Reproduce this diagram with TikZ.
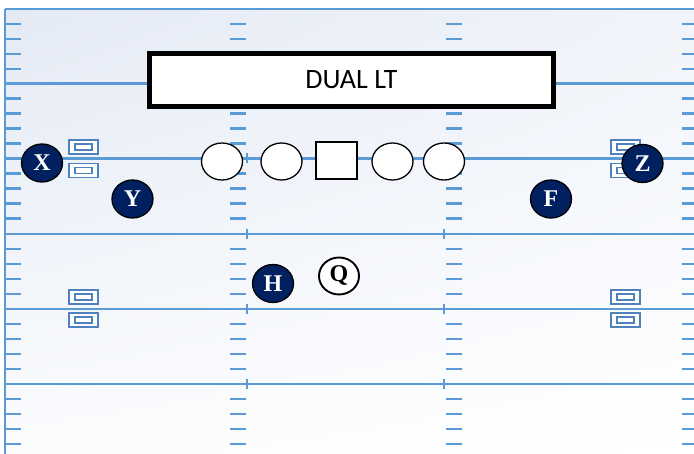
\documentclass[tikz,border=0pt]{standalone}
\usepackage{fontspec}
\setmainfont{Liberation Serif}
\newfontfamily\titlefont{Carlito}
\usetikzlibrary{shapes.geometric,shadings}
\definecolor{fieldline}{RGB}{91,155,213}
\definecolor{numline}{RGB}{79,129,189}
\definecolor{navy}{RGB}{0,32,96}
\definecolor{fieldtop}{RGB}{228,234,245}
\definecolor{fieldmid}{RGB}{240,244,250}
\tikzset{
  yardline/.style={draw=fieldline, line width=2.2pt},
  hashmark/.style={draw=fieldline, line width=2.6pt},
  numbox/.style={draw=numline, line width=1.8pt, fill=white, minimum width=29pt, minimum height=14pt, inner sep=0pt},
  numinner/.style={draw=numline, line width=1.5pt, fill=white, minimum width=17pt, minimum height=6pt, inner sep=0pt},
  lineman/.style={ellipse, draw=black, line width=1.3pt, fill=white, minimum width=41pt, minimum height=37pt, inner sep=0pt},
  center/.style={rectangle, draw=black, line width=1.3pt, fill=white, minimum width=41pt, minimum height=37pt, inner sep=0pt},
  skill/.style={ellipse, draw=black, line width=1.3pt, fill=navy, text=white, minimum width=41pt, minimum height=38pt, inner sep=0pt, font=\fontsize{24}{24}\selectfont\bfseries},
  qb/.style={ellipse, draw=black, line width=1.9pt, fill=white, text=black, minimum width=40pt, minimum height=37pt, inner sep=0pt, font=\fontsize{24}{24}\selectfont\bfseries},
  titlebox/.style={rectangle, draw=black, line width=5pt, fill=white, minimum width=404pt, minimum height=53pt, inner sep=0pt, font=\titlefont\fontsize{28}{28}\selectfont}
}
\begin{document}
\begin{tikzpicture}[x=1pt, y=-1pt]
  \useasboundingbox (0,0) rectangle (694,454);
  \fill[white] (0,0) rectangle (694,454);
  % turf with a soft diagonal tint
  \shade[upper left=fieldtop, upper right=fieldmid, lower left=white!70!fieldmid, lower right=white]
    (5,9) rectangle (694,454);
  % sideline and back line
  \draw[yardline] (5,9) -- (694,9);
  \draw[yardline] (5,9) -- (5,454);
  % yard lines every five yards
  \foreach \y in {83.5,158.5,234,309,384} {
    \draw[yardline] (5,\y) -- (694,\y);
    \draw[yardline] (247,\y-5) -- (247,\y+5);
    \draw[yardline] (444,\y-5) -- (444,\y+5);
  }
  % one-yard hash marks
  \foreach \yb in {9,83.5,158.5,234,309,384} {
    \foreach \j in {1,2,3,4} {
      \pgfmathsetmacro{\yy}{\yb+15*\j}
      \ifdim \yy pt<452pt
        \draw[hashmark] (5,\yy) -- (21,\yy);
        \draw[hashmark] (230,\yy) -- (246,\yy);
        \draw[hashmark] (446,\yy) -- (462,\yy);
        \draw[hashmark] (682,\yy) -- (694,\yy);
      \fi
    }
  }
  % yard number markers
  \foreach \nm/\x/\y in {lu1/83.5/147, ll1/83.5/170.5, ru1/625.5/147, rl1/625.5/170.5,
                         lu2/83.5/297, ll2/83.5/320, ru2/625.5/297, rl2/625.5/320} {
    \node[numbox] (\nm) at (\x,\y) {};
    \node[numinner] at (\nm) {};
  }
  % formation title
  \node[titlebox] (title) at (351.5,80) {DUAL LT};
  % offensive line
  \node[lineman] (lt) at (222,161.5) {};
  \node[lineman] (lg) at (281.5,161.5) {};
  \node[center]  (c)  at (336.5,160.5) {};
  \node[lineman] (rg) at (392.5,161.5) {};
  \node[lineman] (rt) at (444,161.5) {};
  % backs and receivers
  \node[skill] (x) at (42,163) {X};
  \node[skill] (y) at (132.5,199) {Y};
  \node[skill] (f) at (551,199) {F};
  \node[skill] (z) at (642.5,163.5) {Z};
  \node[skill] (h) at (273,283.5) {H};
  \node[qb]    (q) at (339,276) {Q};
\end{tikzpicture}
\end{document}
